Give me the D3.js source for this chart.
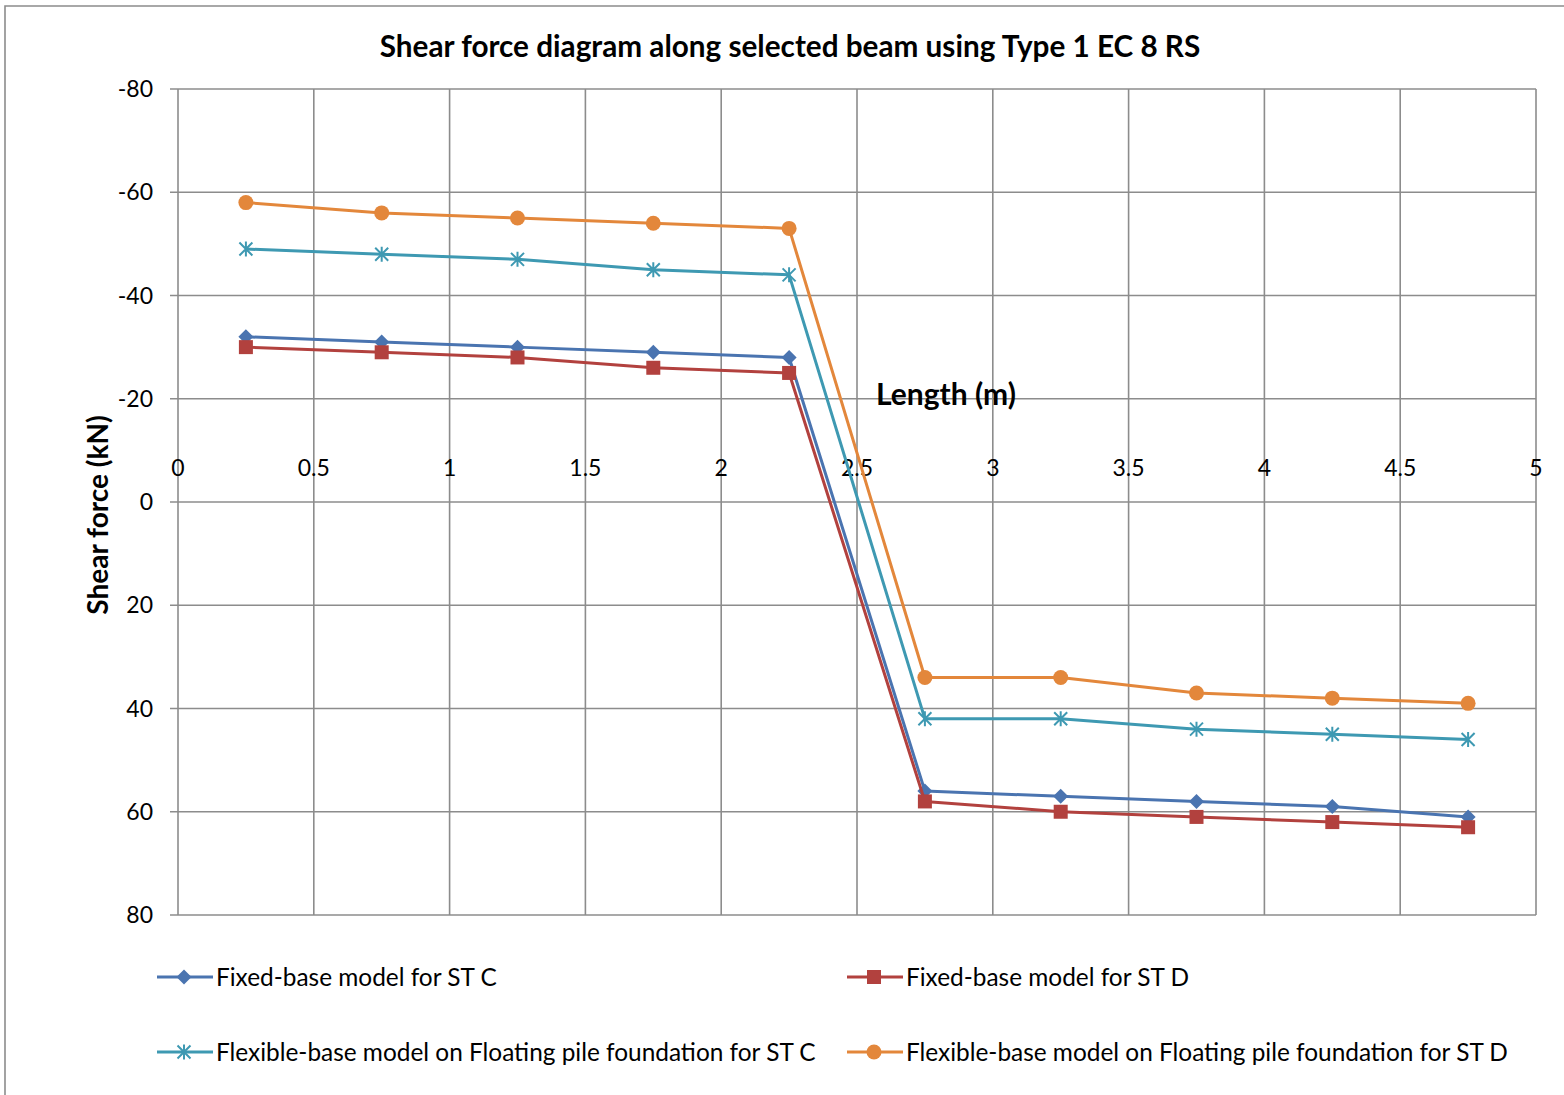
<!DOCTYPE html>
<html>
<head>
<meta charset="utf-8">
<script src="https://cdn.jsdelivr.net/npm/d3@7"></script>
<style>
  body { margin: 0; background: #fff; }
  svg { font-family: Lato, "Open Sans", sans-serif; }
  .grid line { stroke: #8c8c8c; stroke-width: 1.6; }
</style>
</head>
<body>
<svg id="chart" width="1564" height="1095"></svg>
<script>
const lengths = [0.25, 0.75, 1.25, 1.75, 2.25, 2.75, 3.25, 3.75, 4.25, 4.75];
const fixedC = [-32, -31, -30, -29, -28, 56, 57, 58, 59, 61];
const fixedD = [-30, -29, -28, -26, -25, 58, 60, 61, 62, 63];
const flexC = [-49, -48, -47, -45, -44, 42, 42, 44, 45, 46];
const flexD = [-58, -56, -55, -54, -53, 34, 34, 37, 38, 39];
const xTicks = [0, 0.5, 1, 1.5, 2, 2.5, 3, 3.5, 4, 4.5, 5];
const yTicks = [-80, -60, -40, -20, 0, 20, 40, 60, 80];

const series = [
  {name: 'Fixed-base model for ST C', values: fixedC, color: '#4a74b0', marker: 'diamond'},
  {name: 'Fixed-base model for ST D', values: fixedD, color: '#b2413e', marker: 'square'},
  {name: 'Flexible-base model on Floating pile foundation for ST C', values: flexC, color: '#3e99b2', marker: 'star'},
  {name: 'Flexible-base model on Floating pile foundation for ST D', values: flexD, color: '#e3873b', marker: 'circle'},
];

const svg = d3.select('#chart');
const plot = {left: 178, top: 89, right: 1536, bottom: 915};

const x = d3.scaleLinear().domain([0, 5]).range([plot.left, plot.right]);
const y = d3.scaleLinear().domain([-80, 80]).range([plot.top, plot.bottom]);

// outer chart frame
svg.append('path')
  .attr('d', `M5,1095 V6 H1564`)
  .attr('fill', 'none')
  .attr('stroke', '#8c8c8c')
  .attr('stroke-width', 1.6);

// grid
const grid = svg.append('g').attr('class', 'grid');
grid.selectAll('.v').data(xTicks).enter().append('line')
  .attr('x1', d => x(d)).attr('x2', d => x(d))
  .attr('y1', plot.top).attr('y2', plot.bottom);
grid.selectAll('.h').data(yTicks).enter().append('line')
  .attr('x1', plot.left - 8).attr('x2', plot.right)
  .attr('y1', d => y(d)).attr('y2', d => y(d));

// y axis labels
svg.append('g').selectAll('text').data(yTicks).enter().append('text')
  .attr('x', 153).attr('y', d => y(d))
  .attr('dy', '0.35em')
  .attr('text-anchor', 'end')
  .attr('font-size', 23)
  .text(d => d);

// x axis labels (sit above the zero line, axis reversed)
svg.append('g').selectAll('text').data(xTicks).enter().append('text')
  .attr('x', d => x(d)).attr('y', y(0) - 34)
  .attr('dy', '0.35em')
  .attr('text-anchor', 'middle')
  .attr('font-size', 23)
  .text(d => d);

// titles
svg.append('text')
  .attr('x', 790).attr('y', 47).attr('dy', '0.35em')
  .attr('text-anchor', 'middle')
  .attr('font-size', 29.7).attr('font-weight', 'bold')
  .text('Shear force diagram along selected beam using Type 1 EC 8 RS');
svg.append('text')
  .attr('x', 946).attr('y', 394).attr('dy', '0.35em')
  .attr('text-anchor', 'middle')
  .attr('font-size', 30).attr('font-weight', 'bold')
  .text('Length (m)');
svg.append('text')
  .attr('transform', 'translate(98,515) rotate(-90)')
  .attr('dy', '0.35em')
  .attr('text-anchor', 'middle')
  .attr('font-size', 28).attr('font-weight', 'bold')
  .text('Shear force (kN)');

function drawMarker(g, type, color) {
  if (type === 'diamond') {
    g.append('path').attr('d', 'M0,-7.5 L7.5,0 L0,7.5 L-7.5,0 Z').attr('fill', color);
  } else if (type === 'square') {
    g.append('rect').attr('x', -7).attr('y', -7).attr('width', 14).attr('height', 14).attr('fill', color);
  } else if (type === 'circle') {
    g.append('circle').attr('r', 7.5).attr('fill', color);
  } else {
    g.append('path').attr('d', 'M-6.5,-6.5 L6.5,6.5 M-6.5,6.5 L6.5,-6.5 M0,-7.5 V7.5')
      .attr('stroke', color).attr('stroke-width', 2).attr('fill', 'none');
  }
}

const line = d3.line().x(d => x(d[0])).y(d => y(d[1]));

series.forEach(s => {
  const pts = lengths.map((l, i) => [l, s.values[i]]);
  const g = svg.append('g');
  g.append('path')
    .attr('d', line(pts))
    .attr('fill', 'none')
    .attr('stroke', s.color)
    .attr('stroke-width', 3)
    .attr('stroke-linejoin', 'round');
  g.selectAll('.m').data(pts).enter().append('g')
    .attr('transform', d => `translate(${x(d[0])},${y(d[1])})`)
    .each(function() { drawMarker(d3.select(this), s.marker, s.color); });
});

// legend
const legendPos = [[157, 977], [847, 977], [157, 1052], [847, 1052]];
series.forEach((s, i) => {
  const [lx, ly] = legendPos[i];
  const g = svg.append('g').attr('transform', `translate(${lx},${ly})`);
  g.append('line').attr('x1', 0).attr('x2', 56).attr('y1', 0).attr('y2', 0)
    .attr('stroke', s.color).attr('stroke-width', 3);
  drawMarker(g.append('g').attr('transform', 'translate(27,0)'), s.marker, s.color);
  g.append('text').attr('x', 59).attr('y', 0).attr('dy', '0.35em')
    .attr('font-size', 24.4)
    .text(s.name);
});
</script>
</body>
</html>
